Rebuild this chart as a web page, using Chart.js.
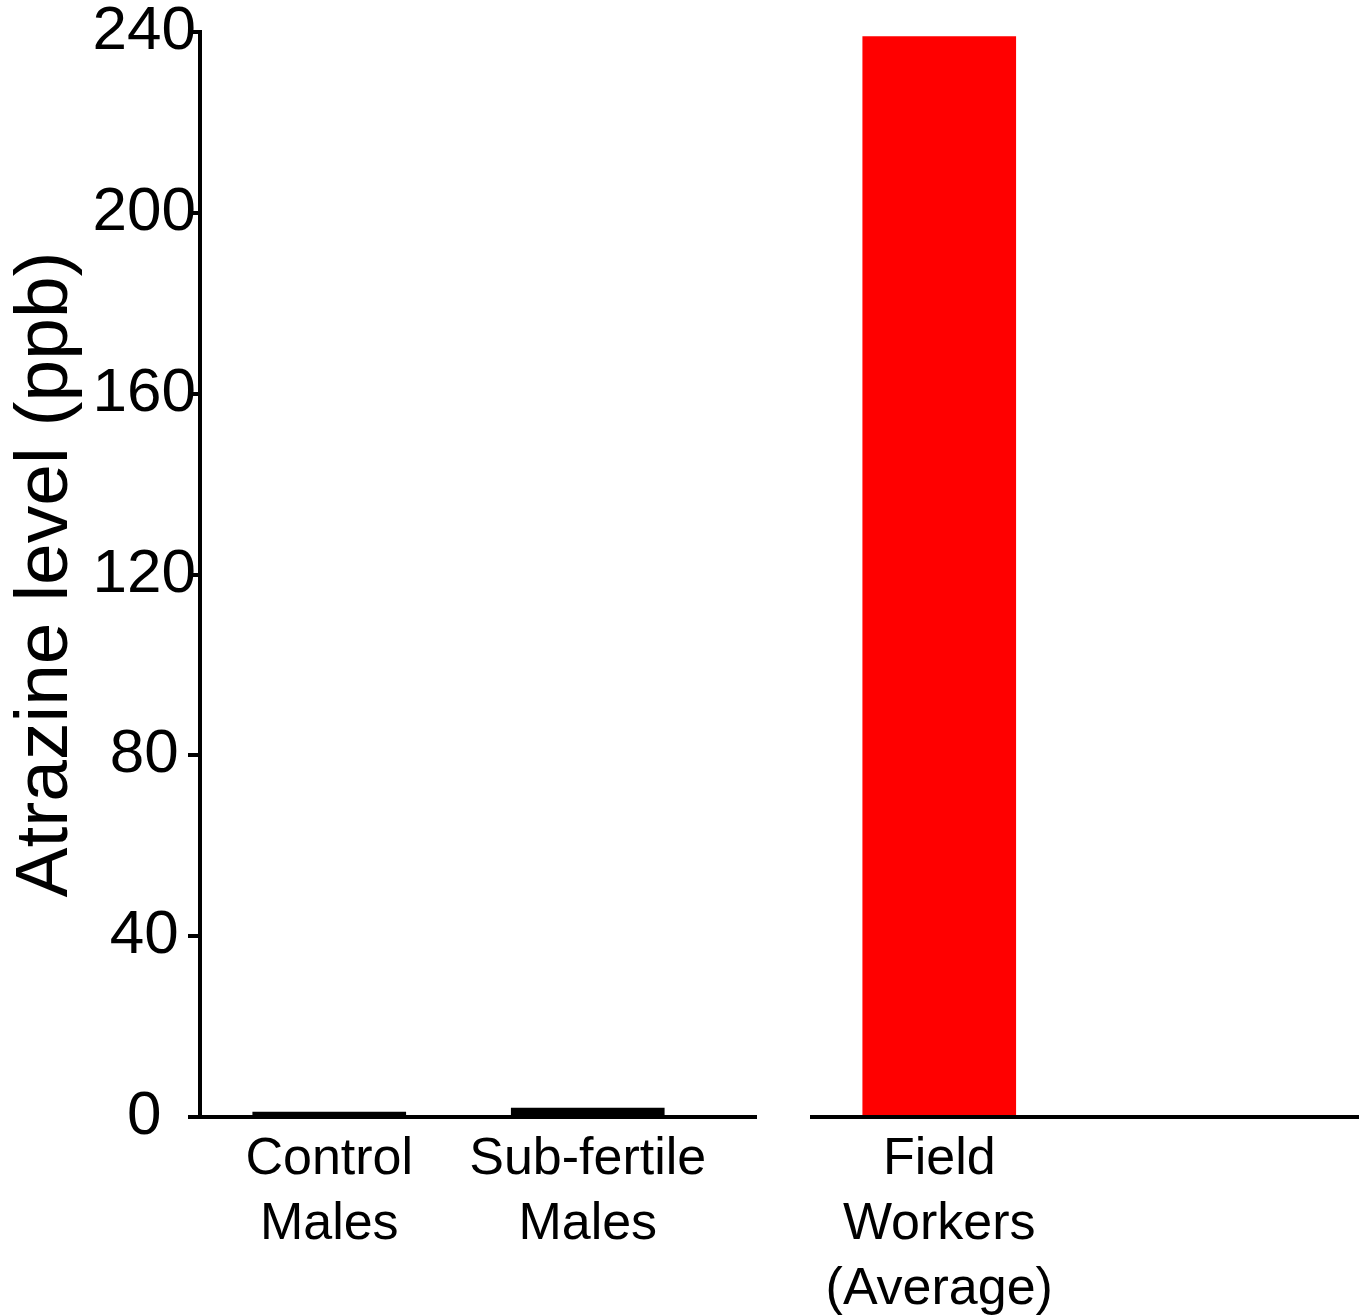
<!DOCTYPE html>
<html lang="en">
<head>
<meta charset="UTF-8">
<title>Atrazine level</title>
<script src="https://cdn.jsdelivr.net/npm/chart.js"></script>
<style>
    body { margin: 0; background: #ffffff; }
    .wrap { position: relative; width: 1359px; height: 1315px; }
    #leftBox { position: absolute; left: 0; top: 0; width: 757px; height: 1315px; }
    #rightBox { position: absolute; left: 810px; top: 0; width: 549px; height: 1315px; }
</style>
</head>
<body>
<div class="wrap">
    <div id="leftBox"><canvas id="leftChart"></canvas></div>
    <div id="rightBox"><canvas id="rightChart"></canvas></div>
</div>
<script>
    // values (ppb)
    const maleLabels = [['Control', 'Males'], ['Sub-fertile', 'Males']];
    const maleValues = [1.1, 2.0];
    const workerLabels = [['Field', 'Workers', '(Average)'], ''];
    const workerValues = [239, null];
    const yTicks = [0, 40, 80, 120, 160, 200, 240];

    Chart.defaults.font.family = "'Liberation Sans', Arial, sans-serif";
    Chart.defaults.color = '#000';

    // x axis line drawn across the whole panel, on top of the bars
    const baseline = {
        id: 'baseline',
        afterDatasetsDraw(chart) {
            const ctx = chart.ctx;
            const y = chart.scales.y.getPixelForValue(0);
            ctx.save();
            ctx.strokeStyle = '#000';
            ctx.lineWidth = 4;
            ctx.beginPath();
            ctx.moveTo(chart.chartArea.left, y);
            ctx.lineTo(chart.width, y);
            ctx.stroke();
            ctx.restore();
        }
    };

    const xAxis = {
        offset: true,
        border: { display: false },
        grid: { display: false, drawTicks: false },
        ticks: {
            color: '#000',
            font: { size: 52, lineHeight: 1.25 },
            padding: 10,
            maxRotation: 0,
            autoSkip: false
        },
        afterFit(scale) {
            scale.height = 198;
            scale.paddingLeft = 0;
            scale.paddingRight = 0;
        }
    };

    new Chart(document.getElementById('leftChart'), {
        type: 'bar',
        data: {
            labels: maleLabels,
            datasets: [{
                data: maleValues,
                backgroundColor: '#000000',
                barThickness: 153
            }]
        },
        options: {
            responsive: true,
            maintainAspectRatio: false,
            animation: false,
            layout: { padding: { top: 32, right: 40, left: 0, bottom: 0 } },
            plugins: { legend: { display: false }, tooltip: { enabled: false } },
            scales: {
                x: xAxis,
                y: {
                    min: 0,
                    max: 240,
                    border: { display: true, color: '#000', width: 4 },
                    grid: { drawOnChartArea: false, drawTicks: true, tickLength: 12, color: '#000', lineWidth: 4 },
                    ticks: { color: '#000', font: { size: 62 }, padding: -8, crossAlign: 'center' },
                    title: {
                        display: true,
                        text: 'Atrazine level (ppb)',
                        color: '#000',
                        font: { size: 75, lineHeight: 1.2 },
                        padding: { top: 1, bottom: 0 }
                    },
                    afterBuildTicks(scale) {
                        scale.ticks = yTicks.map(v => ({ value: v }));
                    },
                    afterFit(scale) {
                        scale.width = 200;
                        scale.paddingTop = 0;
                        scale.paddingBottom = 0;
                    }
                }
            }
        },
        plugins: [baseline]
    });

    new Chart(document.getElementById('rightChart'), {
        type: 'bar',
        data: {
            labels: workerLabels,
            datasets: [{
                data: workerValues,
                backgroundColor: '#ff0000',
                barThickness: 153
            }]
        },
        options: {
            responsive: true,
            maintainAspectRatio: false,
            animation: false,
            layout: { padding: { top: 32, right: 32, left: 0, bottom: 0 } },
            plugins: { legend: { display: false }, tooltip: { enabled: false } },
            scales: {
                x: xAxis,
                y: { display: false, min: 0, max: 240 }
            }
        },
        plugins: [baseline]
    });
</script>
</body>
</html>
